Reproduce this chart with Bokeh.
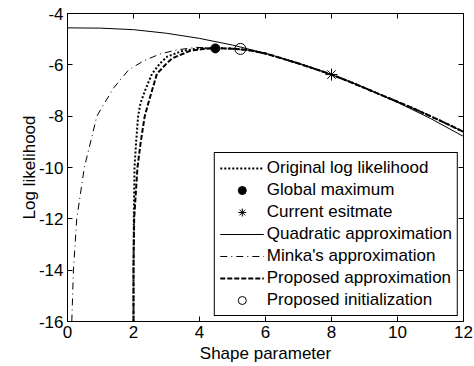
from bokeh.plotting import figure
from bokeh.models import LinearAxis, Legend, LegendItem, FixedTicker, Range1d
from bokeh.embed import file_html
from bokeh.resources import INLINE

# ---- data ----
x_ticks = [0, 2, 4, 6, 8, 10, 12]
y_ticks = [-16, -14, -12, -10, -8, -6, -4]

# shared right-hand part of the likelihood curves
tail_x = [4.5, 5.0, 5.5, 6.0, 6.5, 7.0, 7.5, 8.0, 8.5, 9.0, 9.5, 10.0, 10.5, 11.0, 11.5, 12.0]
tail_y = [-5.35, -5.37, -5.43, -5.56, -5.75, -5.95, -6.16, -6.38, -6.63, -6.90, -7.17, -7.44, -7.71, -8.00, -8.30, -8.61]

orig_x = [2.00, 2.00, 2.01, 2.03, 2.08, 2.14, 2.21, 2.35, 2.56, 2.80, 3.02, 3.50, 4.00]
orig_y = [-16.0, -14.0, -12.0, -10.0, -9.0, -8.0, -7.5, -7.0, -6.35, -5.95, -5.68, -5.45, -5.36]

prop_x = [2.00, 2.00, 2.02, 2.12, 2.22, 2.34, 2.47, 2.71, 3.00, 3.17, 3.72, 4.20]
prop_y = [-16.0, -14.0, -12.0, -10.0, -9.0, -8.0, -7.4, -6.35, -5.95, -5.75, -5.45, -5.37]

minka_x = [0.13, 0.18, 0.28, 0.51, 0.89, 1.08, 1.40, 1.85, 2.30, 2.80, 3.30, 3.90]
minka_y = [-16.0, -14.0, -12.0, -10.0, -8.0, -7.58, -6.90, -6.20, -5.85, -5.58, -5.42, -5.32]

quad_x = [0, 1, 2, 3, 4, 5, 6, 7, 8, 9, 10, 11, 12]
quad_y = [-4.56, -4.57, -4.63, -4.77, -4.97, -5.23, -5.55, -5.93, -6.38, -6.89, -7.46, -8.09, -8.79]

global_max_x = [4.48]
global_max_y = [-5.36]
current_x = [8.0]
current_y = [-6.38]
init_x = [5.24]
init_y = [-5.38]

labels = ["Original log likelihood", "Global maximum", "Current esitmate",
          "Quadratic approximation", "Minka's approximation",
          "Proposed approximation", "Proposed initialization"]

FONT = "Liberation Sans"
FS = "17px"

p = figure(width=474, height=366, x_range=Range1d(0, 12), y_range=Range1d(-16, -4),
           output_backend="svg", toolbar_location=None,
           min_border_left=67, min_border_right=11, min_border_top=13, min_border_bottom=45)
p.xgrid.grid_line_color = None
p.ygrid.grid_line_color = None
p.outline_line_color = "black"
p.outline_line_alpha = 1
p.outline_line_width = 1
p.background_fill_color = "white"
p.border_fill_color = "white"

for ax, ticks in ((p.xaxis, x_ticks), (p.yaxis, y_ticks)):
    ax.ticker = FixedTicker(ticks=ticks)
    ax.major_label_overrides = {t: str(t) for t in ticks}
    ax.major_tick_in = 5
    ax.major_tick_out = 0
    ax.minor_tick_line_color = None
    ax.axis_line_color = "black"
    ax.major_tick_line_color = "black"
    ax.major_label_text_font = FONT
    ax.major_label_text_font_size = FS
    ax.major_label_text_color = "black"
    ax.major_label_standoff = 4
    ax.axis_label_text_font = FONT
    ax.axis_label_text_font_size = FS
    ax.axis_label_text_font_style = "normal"
    ax.axis_label_text_color = "black"

p.xaxis.axis_label = "Shape parameter"
p.yaxis.axis_label = "Log likelihood"
p.xaxis.axis_label_standoff = 3
p.yaxis.axis_label_standoff = -3

top = LinearAxis(ticker=FixedTicker(ticks=x_ticks), major_label_text_font_size="0px",
                 major_label_text_color=None,
                 major_tick_in=5, major_tick_out=0, minor_tick_line_color=None,
                 axis_line_color=None, major_label_standoff=0)
right = LinearAxis(ticker=FixedTicker(ticks=y_ticks), major_label_text_font_size="0px",
                   major_label_text_color=None,
                   major_tick_in=5, major_tick_out=0, minor_tick_line_color=None,
                   axis_line_color=None, major_label_standoff=0)
p.add_layout(top, "above")
p.add_layout(right, "right")

r_orig = p.line(orig_x + tail_x, orig_y + tail_y, line_color="black", line_width=2, line_dash="2 2")
r_gmax = p.scatter(global_max_x, global_max_y, marker="circle", size=9, fill_color="black", line_color="black")
r_cur = p.scatter(current_x, current_y, marker="asterisk", size=12, line_color="black", line_width=1)
r_quad = p.line(quad_x, quad_y, line_color="black", line_width=1)
r_minka = p.line(minka_x + tail_x, minka_y + tail_y, line_color="black", line_width=1, line_dash="7 4 1 4")
r_prop = p.line(prop_x + tail_x, prop_y + tail_y, line_color="black", line_width=2, line_dash="5 2")
r_init = p.scatter(init_x, init_y, marker="circle", size=11, fill_color=None, line_color="black", line_width=1)

renderers = [r_orig, r_gmax, r_cur, r_quad, r_minka, r_prop, r_init]
legend = Legend(items=[LegendItem(label=l, renderers=[r]) for l, r in zip(labels, renderers)],
                location="bottom_right", margin=5, padding=5, spacing=2,
                glyph_width=44, glyph_height=20, label_height=20, label_standoff=3,
                label_text_font=FONT, label_text_font_size=FS, label_text_color="black",
                border_line_color="black", border_line_width=1, border_line_alpha=1,
                background_fill_color="white", background_fill_alpha=1)
p.add_layout(legend)

open("out.html", "w").write(file_html(p, INLINE))
